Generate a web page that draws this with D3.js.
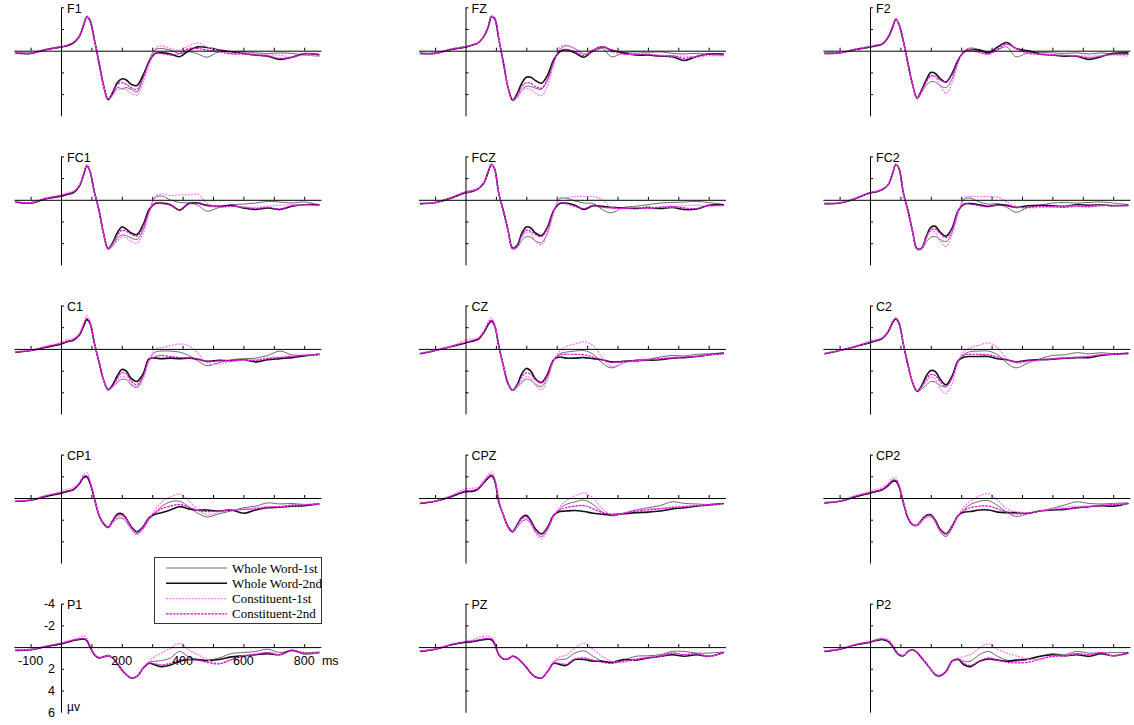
<!DOCTYPE html>
<html>
<head>
<meta charset="utf-8">
<script src="https://cdn.jsdelivr.net/npm/d3@7/dist/d3.min.js"></script>
<style>
  body { margin: 0; background: #fff; }
  svg text { font-family: "Liberation Sans", Arial, sans-serif; }
</style>
</head>
<body>
<svg id="chart" width="1134" height="725"></svg>
<script>
// sample times (ms) of the waveforms
const times = [-150,-100,-50,0,20,40,60,75,85,95,110,125,140,155,170,185,200,215,230,250,270,290,310,330,360,390,420,450,480,520,560,600,640,680,720,760,800,850];

const electrodes = ["F1","FZ","F2","FC1","FCZ","FC2","C1","CZ","C2","CP1","CPZ","CP2","P1","PZ","P2"];
const conditions = ["Whole Word-1st","Whole Word-2nd","Constituent-1st","Constituent-2nd"];

const xTicks = [-100,100,200,300,400,500,600,700,800];
const xTickLabels = [-100,200,400,600,800];
const yTicks = [-4,-2,2,4];
const yTickLabels = [-4,-2,2,4,6];

// amplitudes in µV, one row per condition (same order as conditions)
const F1 = [
  [0.2,0.2,-0.1,-0.3,-0.45,-0.7,-1.3,-2.45,-3.2,-2.9,-1.0,1.2,3.3,4.55,4.1,3.4,3.5,3.4,3.55,3.8,2.55,0.85,-0.1,-0.2,-0.05,0.25,0.1,0.3,0.6,0.1,0.1,0.1,0.2,0.25,0.2,0.25,0.4,0.5],
  [0.2,0.25,-0.1,-0.35,-0.45,-0.7,-1.3,-2.4,-3.1,-2.8,-1.0,1.1,3.2,4.5,3.85,2.95,2.6,2.7,3.1,3.2,2.25,1.0,0.25,0.2,0.3,0.55,0.0,-0.35,-0.3,-0.05,0.1,0.25,0.4,0.5,0.8,0.6,0.3,0.35],
  [0.15,0.2,-0.15,-0.35,-0.55,-0.8,-1.4,-2.5,-3.15,-2.8,-0.95,1.2,3.3,4.45,4.1,3.6,3.55,3.6,3.9,4.1,3.0,1.3,-0.2,-0.45,-0.2,-0.05,-0.45,-0.7,-0.35,0.0,0.25,0.2,0.3,0.4,0.4,0.6,0.4,0.5],
  [0.2,0.25,-0.1,-0.35,-0.5,-0.75,-1.35,-2.45,-3.1,-2.75,-0.95,1.15,3.2,4.45,3.95,3.1,2.95,3.1,3.4,3.55,2.5,1.0,0.2,0.25,0.4,0.25,-0.2,-0.2,-0.05,0.1,0.3,0.3,0.4,0.5,0.7,0.6,0.25,0.4]
];
const FZ = [
  [0.25,0.2,-0.1,-0.3,-0.5,-0.7,-1.3,-2.25,-3.2,-3.1,-1.05,1.2,3.45,4.6,4.35,3.6,3.3,3.3,3.45,3.55,2.7,1.1,-0.1,-0.45,-0.2,0.3,0.1,-0.2,0.55,0.2,0.1,0.15,0.1,0.25,0.3,0.25,0.35,0.45],
  [0.25,0.25,-0.1,-0.35,-0.5,-0.7,-1.3,-2.2,-3.1,-3.0,-1.0,1.15,3.4,4.55,3.95,3.0,2.45,2.45,2.75,3.0,2.25,0.85,0.1,-0.1,0.2,0.6,-0.05,-0.35,-0.05,0.2,0.4,0.4,0.5,0.55,0.9,0.55,0.3,0.3],
  [0.3,0.25,-0.15,-0.4,-0.55,-0.75,-1.35,-2.3,-3.15,-3.0,-1.0,1.2,3.4,4.5,4.3,3.7,3.5,3.6,3.9,4.15,3.2,1.3,-0.3,-0.5,-0.15,0.3,-0.1,-0.35,0.1,0.35,0.3,0.3,0.4,0.5,0.5,0.6,0.45,0.5],
  [0.25,0.25,-0.1,-0.35,-0.5,-0.7,-1.3,-2.25,-3.1,-2.95,-1.0,1.15,3.35,4.5,4.1,3.3,2.95,3.0,3.3,3.45,2.6,1.0,0.0,-0.1,0.1,0.45,0.0,-0.35,-0.1,0.3,0.3,0.35,0.5,0.45,0.7,0.5,0.3,0.35]
];
const F2 = [
  [0.25,0.2,-0.1,-0.3,-0.45,-0.6,-1.25,-2.25,-2.95,-2.5,-0.85,1.25,3.2,4.45,3.85,3.2,2.85,2.9,3.2,3.4,2.6,1.0,0.0,-0.25,-0.1,0.1,-0.1,-0.35,0.55,0.2,0.15,0.2,0.25,0.2,0.3,0.2,0.3,0.35],
  [0.25,0.2,-0.1,-0.35,-0.45,-0.6,-1.25,-2.2,-2.9,-2.45,-0.85,1.2,3.1,4.35,3.6,2.7,2.0,2.1,2.55,2.9,2.1,0.85,0.1,-0.1,-0.05,0.2,-0.35,-0.75,-0.2,0.0,0.3,0.4,0.5,0.5,0.8,0.55,0.25,0.2],
  [0.3,0.2,-0.15,-0.4,-0.55,-0.7,-1.35,-2.3,-2.95,-2.45,-0.8,1.25,3.15,4.35,3.75,3.0,2.35,2.45,3.2,3.95,3.0,1.2,0.0,-0.1,0.2,0.35,-0.1,-0.6,-0.2,0.3,0.3,0.35,0.4,0.45,0.5,0.45,0.4,0.5],
  [0.25,0.2,-0.1,-0.35,-0.5,-0.65,-1.3,-2.25,-2.9,-2.45,-0.8,1.2,3.1,4.35,3.65,2.85,2.3,2.35,2.7,2.85,2.2,0.85,0.05,0.0,0.15,0.3,-0.15,-0.6,-0.2,0.2,0.35,0.4,0.45,0.5,0.65,0.5,0.3,0.3]
];
const FC1 = [
  [0.2,0.25,-0.1,-0.3,-0.5,-0.65,-1.25,-2.4,-3.2,-2.7,-0.7,1.0,3.2,4.55,4.3,3.55,3.25,3.3,3.5,3.65,2.8,1.1,-0.2,-0.35,0.0,0.25,0.3,0.5,1.05,0.7,0.45,0.4,0.3,0.15,0.2,0.3,0.2,0.5],
  [0.2,0.3,-0.1,-0.35,-0.5,-0.65,-1.25,-2.35,-3.15,-2.65,-0.7,0.95,3.1,4.5,3.95,3.05,2.5,2.7,3.05,3.2,2.3,0.9,0.35,0.3,0.45,0.95,0.35,0.3,0.5,0.6,0.5,0.75,0.9,0.75,0.9,0.6,0.45,0.45],
  [0.15,0.25,-0.2,-0.45,-0.65,-0.8,-1.35,-2.45,-3.2,-2.7,-0.65,1.0,3.2,4.45,4.2,3.8,3.45,3.5,3.8,4.0,3.1,1.3,-0.3,-0.55,-0.4,-0.45,-0.45,-0.5,0.3,0.7,0.6,0.65,0.7,0.6,0.5,0.45,0.5,0.55],
  [0.2,0.3,-0.1,-0.4,-0.55,-0.7,-1.3,-2.4,-3.15,-2.65,-0.65,1.0,3.1,4.45,4.0,3.3,2.8,2.9,3.15,3.35,2.5,1.0,0.3,0.35,0.5,0.9,0.4,0.35,0.55,0.65,0.6,0.7,0.8,0.7,0.85,0.55,0.45,0.5]
];
const FCZ = [
  [0.35,0.3,-0.1,-0.6,-0.7,-0.95,-1.5,-2.6,-3.3,-2.95,-0.5,1.1,2.9,4.55,4.4,3.75,3.4,3.45,3.8,3.95,3.0,1.2,-0.1,-0.15,0.1,0.3,0.35,0.9,1.2,0.7,0.6,0.45,0.3,0.25,0.2,0.15,0.25,0.45],
  [0.35,0.25,-0.15,-0.7,-0.8,-1.0,-1.55,-2.6,-3.25,-2.9,-0.5,1.05,2.8,4.45,4.2,3.1,2.5,2.6,3.05,3.3,2.5,1.0,0.35,0.3,0.5,0.9,0.55,0.6,0.7,0.75,0.8,0.7,0.8,0.7,0.9,0.85,0.5,0.45],
  [0.3,0.25,-0.2,-0.75,-0.85,-1.05,-1.6,-2.65,-3.3,-2.9,-0.45,1.1,2.9,4.5,4.3,3.5,3.0,3.1,3.8,4.15,3.1,1.2,-0.15,-0.2,-0.3,-0.3,-0.3,0.0,0.7,0.8,0.7,0.75,0.65,0.7,0.55,0.5,0.6,0.55],
  [0.35,0.25,-0.15,-0.7,-0.8,-1.0,-1.55,-2.6,-3.25,-2.9,-0.5,1.05,2.85,4.5,4.3,3.3,2.8,2.9,3.2,3.4,2.6,1.0,0.3,0.35,0.6,0.8,0.5,0.7,0.75,0.8,0.75,0.8,0.7,0.6,0.75,0.8,0.55,0.5]
];
const FC2 = [
  [0.35,0.3,-0.1,-0.6,-0.7,-0.9,-1.4,-2.5,-3.3,-2.95,-0.6,1.05,3.0,4.6,4.55,3.9,3.45,3.4,3.65,3.85,3.0,1.2,-0.05,-0.15,0.2,0.4,0.35,0.7,1.15,0.7,0.5,0.3,0.25,0.3,0.25,0.2,0.3,0.45],
  [0.35,0.3,-0.1,-0.65,-0.75,-0.95,-1.4,-2.5,-3.25,-2.9,-0.6,1.0,2.9,4.5,4.45,3.4,2.55,2.45,2.95,3.35,2.6,1.0,0.4,0.35,0.45,0.6,0.45,0.5,0.7,0.55,0.5,0.55,0.6,0.45,0.5,0.45,0.55,0.5],
  [0.3,0.25,-0.15,-0.7,-0.8,-1.0,-1.45,-2.55,-3.3,-2.9,-0.55,1.05,2.95,4.55,4.5,3.6,2.9,3.0,3.8,4.3,3.2,1.2,-0.2,-0.3,-0.3,-0.3,-0.25,0.2,0.6,0.75,0.7,0.65,0.6,0.55,0.6,0.5,0.55,0.6],
  [0.35,0.3,-0.1,-0.65,-0.75,-0.95,-1.4,-2.5,-3.25,-2.9,-0.55,1.0,2.9,4.5,4.45,3.45,2.75,2.7,3.1,3.5,2.7,1.0,0.35,0.4,0.55,0.65,0.5,0.6,0.7,0.7,0.6,0.65,0.7,0.6,0.65,0.55,0.5,0.55]
];
const C1 = [
  [0.3,0.15,-0.15,-0.45,-0.65,-0.8,-1.3,-2.2,-2.75,-2.45,-0.5,1.2,2.9,3.8,3.5,3.1,2.8,2.85,3.25,3.5,2.6,1.0,0.3,0.2,0.2,0.3,0.6,1.1,1.55,1.25,1.0,0.9,0.85,0.6,0.2,0.55,0.6,0.45],
  [0.3,0.15,-0.15,-0.45,-0.65,-0.8,-1.25,-2.15,-2.7,-2.4,-0.5,1.2,2.85,3.75,3.3,2.5,1.9,2.05,2.7,3.0,2.3,0.9,0.85,0.9,0.85,0.9,0.85,0.95,1.15,1.05,1.1,1.0,1.2,1.0,0.9,0.8,0.65,0.5],
  [0.25,0.1,-0.25,-0.6,-0.85,-0.95,-1.45,-2.45,-3.05,-2.6,-0.55,1.2,2.9,3.8,3.5,2.95,2.55,2.65,3.3,3.6,2.8,1.05,0.0,-0.1,-0.3,-0.45,-0.3,0.4,1.3,1.4,1.15,1.05,1.0,0.8,0.75,0.6,0.55,0.55],
  [0.3,0.15,-0.2,-0.5,-0.7,-0.85,-1.3,-2.25,-2.8,-2.45,-0.5,1.2,2.85,3.75,3.4,2.7,2.2,2.3,2.95,3.3,2.5,1.0,0.7,0.6,0.7,0.8,0.85,0.95,1.15,1.1,1.05,1.0,1.05,0.9,0.8,0.7,0.6,0.55]
];
const CZ = [
  [0.45,0.15,-0.2,-0.55,-0.7,-0.9,-1.5,-2.3,-2.6,-2.25,-0.2,1.6,3.25,3.85,3.55,3.1,2.8,2.9,3.25,3.45,2.6,1.1,0.45,0.3,0.2,0.15,0.5,1.3,1.75,1.3,1.0,0.95,0.75,0.6,0.65,0.5,0.45,0.35],
  [0.45,0.15,-0.2,-0.55,-0.7,-0.85,-1.5,-2.25,-2.55,-2.2,-0.2,1.6,3.2,3.8,3.3,2.3,1.8,2.05,2.75,3.1,2.3,1.0,0.75,0.85,0.85,0.8,0.9,1.0,1.2,1.15,1.1,1.05,1.0,0.85,0.8,0.7,0.55,0.4],
  [0.4,0.1,-0.25,-0.8,-0.9,-1.0,-1.65,-2.55,-2.85,-2.4,-0.25,1.6,3.2,3.8,3.45,2.9,2.55,2.7,3.35,3.75,2.8,1.1,0.2,-0.2,-0.45,-0.65,-0.3,0.8,1.6,1.3,1.1,1.0,0.9,0.75,0.7,0.65,0.55,0.45],
  [0.45,0.15,-0.2,-0.6,-0.75,-0.9,-1.55,-2.35,-2.65,-2.25,-0.2,1.6,3.2,3.8,3.35,2.6,2.2,2.35,2.85,3.15,2.35,1.0,0.55,0.5,0.5,0.55,0.75,1.0,1.25,1.15,1.1,1.0,0.9,0.85,0.75,0.7,0.55,0.45]
];
const C2 = [
  [0.45,0.15,-0.2,-0.55,-0.75,-0.95,-1.6,-2.5,-2.8,-2.45,-0.4,1.5,3.15,3.95,3.7,3.35,3.0,3.05,3.35,3.5,2.7,1.2,0.5,0.25,0.2,0.2,0.55,1.3,1.75,1.3,0.9,0.6,0.55,0.35,0.45,0.35,0.45,0.4],
  [0.45,0.15,-0.2,-0.6,-0.75,-0.95,-1.6,-2.45,-2.75,-2.4,-0.4,1.5,3.1,3.9,3.4,2.5,2.0,2.1,2.75,3.3,2.5,1.1,0.75,0.7,0.7,0.7,0.9,1.0,1.2,1.05,1.0,0.95,0.85,0.8,0.8,0.6,0.5,0.4],
  [0.4,0.15,-0.25,-0.75,-0.85,-1.05,-1.7,-2.6,-2.9,-2.5,-0.4,1.5,3.1,3.9,3.5,3.05,2.6,2.8,3.6,4.1,3.2,1.2,0.2,-0.1,-0.35,-0.55,-0.1,0.9,1.3,1.2,1.05,0.9,0.8,0.75,0.65,0.5,0.5,0.45],
  [0.45,0.15,-0.2,-0.6,-0.8,-1.0,-1.6,-2.5,-2.8,-2.4,-0.4,1.5,3.1,3.9,3.45,2.8,2.35,2.45,3.0,3.45,2.6,1.1,0.55,0.5,0.5,0.55,0.75,1.0,1.2,1.1,1.0,0.9,0.85,0.8,0.7,0.55,0.5,0.45]
];
const CP1 = [
  [0.3,0.2,-0.15,-0.45,-0.6,-0.75,-1.3,-1.95,-2.0,-1.45,0.05,1.6,2.4,2.75,2.3,1.9,1.85,2.2,2.85,3.3,2.85,2.0,1.35,0.8,0.35,0.3,0.8,1.4,1.75,1.45,1.2,0.9,0.75,0.45,0.55,0.5,0.6,0.5],
  [0.3,0.2,-0.15,-0.45,-0.6,-0.75,-1.3,-1.9,-1.95,-1.4,0.05,1.6,2.35,2.7,2.1,1.5,1.45,1.9,2.6,3.1,2.65,1.8,1.5,1.35,1.1,0.8,1.0,1.1,1.1,1.2,1.1,1.4,1.1,0.9,0.85,0.75,0.7,0.55],
  [0.25,0.15,-0.25,-0.55,-0.8,-0.95,-1.45,-2.2,-2.35,-1.7,0.0,1.5,2.45,2.75,2.25,1.75,1.65,2.05,2.8,3.4,2.85,1.9,1.1,0.4,-0.1,-0.35,0.2,1.1,1.55,1.3,1.1,1.05,0.9,0.8,0.8,0.7,0.6,0.55],
  [0.3,0.2,-0.2,-0.5,-0.65,-0.8,-1.35,-2.0,-2.05,-1.5,0.05,1.55,2.4,2.7,2.15,1.6,1.55,1.95,2.65,3.15,2.7,1.8,1.35,1.0,0.75,0.6,0.85,1.15,1.25,1.2,1.15,1.05,1.0,0.85,0.8,0.65,0.65,0.55]
];
const CPZ = [
  [0.5,0.3,-0.1,-0.55,-0.6,-0.8,-1.4,-1.9,-2.1,-1.75,0.4,1.65,2.7,3.15,2.7,2.2,2.0,2.4,3.1,3.55,2.9,1.7,1.0,0.6,0.35,0.2,0.6,1.3,1.65,1.4,1.1,0.9,0.7,0.35,0.5,0.55,0.6,0.5],
  [0.5,0.3,-0.1,-0.6,-0.6,-0.8,-1.4,-1.85,-2.05,-1.7,0.4,1.6,2.65,3.1,2.45,1.8,1.6,2.1,2.85,3.3,2.7,1.6,1.25,1.2,1.15,1.25,1.4,1.5,1.55,1.45,1.35,1.3,1.2,1.0,0.9,0.75,0.65,0.5],
  [0.45,0.25,-0.2,-0.85,-0.9,-1.0,-1.6,-2.15,-2.4,-1.95,0.2,1.6,2.7,3.15,2.6,2.0,1.85,2.35,3.2,3.75,3.0,1.7,0.8,0.3,-0.2,-0.45,0.0,1.0,1.5,1.4,1.1,1.0,0.95,0.8,0.75,0.7,0.6,0.55],
  [0.5,0.3,-0.15,-0.65,-0.7,-0.85,-1.45,-1.95,-2.15,-1.75,0.35,1.6,2.65,3.1,2.5,1.9,1.7,2.2,2.95,3.35,2.75,1.6,1.1,0.9,0.75,0.7,1.0,1.35,1.5,1.4,1.2,1.1,1.0,0.9,0.8,0.7,0.6,0.5]
];
const CP2 = [
  [0.45,0.3,-0.1,-0.45,-0.6,-0.75,-1.2,-1.6,-1.6,-1.15,0.45,1.85,2.5,2.55,2.2,1.8,1.75,2.25,3.1,3.55,2.8,1.7,1.05,0.6,0.3,0.25,0.7,1.3,1.7,1.45,1.2,0.95,0.65,0.35,0.5,0.55,0.5,0.45],
  [0.45,0.3,-0.1,-0.45,-0.6,-0.75,-1.15,-1.55,-1.55,-1.1,0.45,1.85,2.45,2.5,2.0,1.6,1.55,2.05,2.85,3.3,2.6,1.6,1.3,1.25,1.1,1.1,1.3,1.35,1.35,1.4,1.2,1.1,1.05,0.9,0.8,0.7,0.75,0.5],
  [0.4,0.25,-0.2,-0.6,-0.8,-0.95,-1.4,-1.85,-1.85,-1.3,0.3,1.8,2.45,2.55,2.1,1.75,1.7,2.2,3.0,3.45,2.75,1.6,0.8,0.3,-0.2,-0.4,0.2,1.0,1.25,1.35,1.2,1.0,0.85,0.75,0.75,0.65,0.6,0.55],
  [0.45,0.3,-0.15,-0.5,-0.65,-0.8,-1.25,-1.65,-1.65,-1.15,0.4,1.85,2.45,2.5,2.05,1.65,1.6,2.1,2.9,3.3,2.65,1.6,1.15,0.9,0.75,0.75,1.0,1.3,1.45,1.4,1.2,1.05,1.0,0.9,0.8,0.7,0.6,0.5]
];
const P1 = [
  [0.3,0.2,-0.05,-0.3,-0.45,-0.6,-0.7,-0.75,-0.65,-0.1,0.65,0.95,0.85,0.75,0.95,1.45,2.05,2.5,2.8,2.65,1.9,1.4,1.3,1.25,1.0,0.4,0.9,1.15,1.2,1.0,0.6,0.5,0.4,0.2,0.5,0.3,0.5,0.45],
  [0.3,0.25,-0.05,-0.3,-0.45,-0.6,-0.7,-0.75,-0.6,-0.05,0.7,1.0,0.9,0.8,1.0,1.5,2.1,2.55,2.85,2.7,1.95,1.5,1.65,1.8,1.65,1.3,1.15,1.15,1.25,1.15,0.9,0.8,0.7,0.6,0.7,0.3,0.6,0.5],
  [0.25,0.2,-0.1,-0.4,-0.55,-0.7,-0.85,-1.05,-0.8,-0.2,0.6,0.95,0.85,0.75,0.95,1.4,2.0,2.5,2.8,2.65,1.85,1.3,0.85,0.55,0.1,-0.35,0.25,0.7,1.15,1.5,1.15,0.8,0.6,0.5,0.7,0.3,0.55,0.5],
  [0.3,0.25,-0.05,-0.35,-0.5,-0.65,-0.75,-0.8,-0.65,-0.05,0.7,1.0,0.9,0.8,1.0,1.5,2.1,2.55,2.85,2.7,1.95,1.5,1.55,1.65,1.5,1.15,1.15,1.2,1.4,1.55,1.15,0.85,0.7,0.5,0.7,0.3,0.6,0.5]
];
const PZ = [
  [0.4,0.2,-0.2,-0.45,-0.5,-0.6,-0.65,-0.7,-0.65,-0.3,0.7,1.05,1.05,0.8,0.95,1.35,1.8,2.35,2.7,2.8,2.2,1.4,1.15,1.1,0.55,0.35,0.85,1.3,1.45,1.2,0.85,0.8,0.7,0.4,0.4,0.55,0.55,0.45],
  [0.4,0.2,-0.2,-0.45,-0.5,-0.6,-0.7,-0.75,-0.7,-0.35,0.7,1.1,1.1,0.85,1.0,1.4,1.85,2.4,2.75,2.85,2.25,1.5,1.6,1.7,1.15,1.15,1.3,1.3,1.4,1.15,1.2,1.0,0.85,0.7,0.85,0.7,0.85,0.5],
  [0.35,0.15,-0.25,-0.55,-0.65,-0.85,-1.0,-1.0,-0.95,-0.55,0.6,1.05,1.05,0.8,0.95,1.35,1.8,2.35,2.7,2.8,2.15,1.3,0.9,0.75,0.1,-0.35,0.2,0.85,1.3,1.4,1.15,0.9,0.85,0.55,0.7,0.6,0.85,0.5],
  [0.4,0.2,-0.2,-0.5,-0.55,-0.65,-0.75,-0.8,-0.75,-0.4,0.7,1.1,1.1,0.85,1.0,1.4,1.85,2.4,2.75,2.85,2.25,1.5,1.5,1.6,1.1,1.0,1.2,1.4,1.5,1.3,1.1,1.0,0.85,0.55,0.7,0.6,0.85,0.5]
];
const P2 = [
  [0.4,0.2,-0.2,-0.45,-0.6,-0.7,-0.55,-0.1,0.35,0.65,0.75,0.4,0.25,0.5,0.95,1.45,2.0,2.5,2.6,2.2,1.3,1.1,1.3,1.3,0.7,0.4,0.85,1.2,1.3,1.15,0.85,0.6,0.7,0.4,0.55,0.55,0.5,0.5],
  [0.4,0.2,-0.2,-0.45,-0.6,-0.7,-0.5,-0.05,0.4,0.7,0.8,0.4,0.25,0.5,1.0,1.5,2.05,2.55,2.65,2.25,1.3,1.15,1.65,1.8,1.3,1.1,1.2,1.3,1.2,1.1,0.85,0.7,0.8,0.7,0.85,0.6,0.8,0.55],
  [0.35,0.15,-0.25,-0.5,-0.7,-0.85,-0.7,-0.25,0.25,0.6,0.75,0.4,0.25,0.5,0.95,1.45,2.0,2.5,2.6,2.2,1.25,1.0,0.85,0.7,0.1,-0.3,0.2,0.55,0.8,1.1,1.1,0.85,0.8,0.6,0.7,0.5,0.8,0.55],
  [0.4,0.2,-0.2,-0.5,-0.65,-0.75,-0.55,-0.1,0.35,0.7,0.8,0.4,0.25,0.5,1.0,1.5,2.05,2.55,2.65,2.25,1.3,1.15,1.5,1.7,1.3,1.0,1.2,1.4,1.45,1.4,1.1,0.85,0.8,0.6,0.7,0.5,0.8,0.55]
];

const waves = { F1, FZ, F2, FC1, FCZ, FC2, C1, CZ, C2, CP1, CPZ, CP2, P1, PZ, P2 };

/** line styles for the four conditions */
const styles = [
  { stroke: "#5a5a5a", width: 0.9, dash: null },
  { stroke: "#111111", width: 1.6, dash: null },
  { stroke: "#ff7dff", width: 1.3, dash: "2,1.2" },
  { stroke: "#e600e6", width: 1.2, dash: "2.5,1" }
];

const svg = d3.select("#chart");

/** panel geometry */
const colX = [61, 465.5, 870];
const rowY0 = 50.7, rowStep = 149.1;
const pxPerMs = 0.304, pxPerUv = 10.85;

electrodes.forEach((name, k) => {
  const row = Math.floor(k / 3), col = k % 3;
  const ax = colX[col];
  const zy = rowY0 + row * rowStep;

  const x = d3.scaleLinear()
    .domain([-155, 855])
    .range([ax - 155 * pxPerMs, ax + 855 * pxPerMs]);
  const y = d3.scaleLinear()
    .domain([-4, 6])
    .range([zy - 4 * pxPerUv, zy + 6 * pxPerUv]);

  const g = svg.append("g").attr("class", "panel");

  // waveforms
  const line = d3.line()
    .x((d, i) => x(times[i]))
    .y(d => y(d))
    .curve(d3.curveCatmullRom.alpha(0.5));

  waves[name].forEach((series, s) => {
    g.append("path")
      .datum(series)
      .attr("fill", "none")
      .attr("stroke", styles[s].stroke)
      .attr("stroke-width", styles[s].width)
      .attr("stroke-dasharray", styles[s].dash)
      .attr("d", line);
  });

  // time axis along zero, ticks pointing up
  g.append("g")
    .attr("transform", `translate(0,${y(0)})`)
    .call(d3.axisTop(x).tickValues(xTicks).tickSize(3).tickSizeOuter(0).tickFormat(""))
    .call(a => a.selectAll("path, line").attr("stroke", "#000").attr("stroke-width", 1));

  // amplitude axis at 0 ms, ticks pointing right
  g.append("g")
    .attr("transform", `translate(${x(0)},0)`)
    .call(d3.axisRight(y).tickValues(yTicks).tickSize(3).tickSizeOuter(0).tickFormat(""))
    .call(a => a.selectAll("path, line").attr("stroke", "#000").attr("stroke-width", 1));

  g.append("text")
    .attr("x", x(0) + 6)
    .attr("y", y(-4) + 5.5)
    .attr("font-size", "12.5px")
    .attr("fill", "#000")
    .text(name);

  // tick labels only on the P1 panel
  if (name === "P1") {
    g.selectAll(".xl")
      .data(xTickLabels)
      .enter().append("text")
      .attr("x", d => x(d))
      .attr("y", y(0) + 18)
      .attr("text-anchor", "middle")
      .attr("font-size", "12.5px")
      .text(d => d);

    g.append("text")
      .attr("x", x(855) + 1)
      .attr("y", y(0) + 18)
      .attr("font-size", "12.5px")
      .text("ms");

    g.selectAll(".yl")
      .data(yTickLabels)
      .enter().append("text")
      .attr("x", x(0) - 6)
      .attr("y", d => y(d))
      .attr("dy", "0.35em")
      .attr("text-anchor", "end")
      .attr("font-size", "12.5px")
      .text(d => d);

    g.append("text")
      .attr("x", x(0) + 6)
      .attr("y", y(5.5))
      .attr("dy", "0.35em")
      .attr("font-size", "12px")
      .text("µv");
  }
});

/** legend */
const legend = svg.append("g").attr("transform", "translate(154,557)");
legend.append("rect")
  .attr("x", 0.5).attr("y", 0.5)
  .attr("width", 167).attr("height", 66)
  .attr("fill", "#fff")
  .attr("stroke", "#333")
  .attr("stroke-width", 1);

conditions.forEach((c, i) => {
  const ly = 11 + i * 15.3;
  legend.append("line")
    .attr("x1", 12).attr("x2", 73)
    .attr("y1", ly).attr("y2", ly)
    .attr("stroke", styles[i].stroke)
    .attr("stroke-width", styles[i].width)
    .attr("stroke-dasharray", styles[i].dash);
  legend.append("text")
    .attr("x", 78)
    .attr("y", ly)
    .attr("dy", "0.35em")
    .attr("font-size", "13px")
    .style("font-family", "'Liberation Serif', 'Times New Roman', serif")
    .text(c);
});
</script>
</body>
</html>
